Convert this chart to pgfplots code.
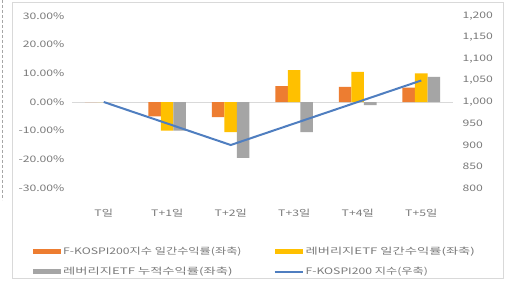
\documentclass[border=0pt]{standalone}
\usepackage{fontspec}
\setmainfont{Noto Sans CJK KR}
\usepackage{graphicx}
\usepackage{pgfplots}
\pgfplotsset{compat=1.18}
\definecolor{cor}{HTML}{ED7D31}
\definecolor{cye}{HTML}{FFC000}
\definecolor{cgr}{HTML}{A5A5A5}
\definecolor{cbl}{HTML}{4F7EC0}
\definecolor{ctx}{HTML}{7A7A7A}
\definecolor{cbd}{HTML}{D9D9D9}
\newcommand\sx[1]{\scalebox{1.36}[1]{#1}}
\newcommand\sxw[1]{\scalebox{1.48}[1]{#1}}
\begin{document}
\begin{tikzpicture}
\useasboundingbox (-72bp,-94bp) rectangle (443bp,188bp);
\fill[white] (-72bp,-94bp) rectangle (443bp,188bp);
\draw[cbd] (-60bp,-90bp) rectangle (431bp,186bp);
\draw[gray!70, dash pattern=on 3bp off 2bp] (-70bp,188bp) -- (-70bp,-12bp);
\begin{axis}[
  at={(0,0)}, anchor=south west,
  scale only axis, width=381bp, height=172bp,
  xmin=-0.5, xmax=5.5, ymin=-30, ymax=30,
  ytick={-30,-20,-10,0,10,20,30},
  yticklabel={\sx{\pgfmathprintnumber[fixed,fixed zerofill,precision=2]{\tick}\%}},
  yticklabel style={xshift=-4bp},
  xtick={0,1,2,3,4,5},
  xticklabels={\sx{T일},\sx{T+1일},\sx{T+2일},\sx{T+3일},\sx{T+4일},\sx{T+5일}},
  xticklabel style={yshift=-18bp},
  axis line style={draw=none}, major tick length=0pt,
  tick label style={font=\fontsize{9}{10}\selectfont, text=ctx},
  /pgf/number format/assume math mode=true,
  ybar=0pt, bar width=12.5bp,
  extra y ticks={0}, extra y tick labels={},
  extra y tick style={grid=major, major grid style={color=cbd, line width=0.8pt}},
  legend columns=2, legend cell align=left,
  legend style={at={(axis description cs:0,0)}, anchor=north west, xshift=-39bp, yshift=-57bp,
    draw=none, fill=none, inner sep=0pt, row sep=7bp,
    font=\fontsize{9}{10}\selectfont, text=ctx,
    /tikz/every even column/.append style={column sep=30bp}},
]
\addplot[fill=cor, draw=none, legend image code/.code={\fill[cor] (0bp,-2.5bp) rectangle (28bp,2.5bp);}]
  coordinates {(0,0) (1,-5.00) (2,-5.26) (3,5.56) (4,5.26) (5,5.00)};
\addlegendentry{\sx{F-KOSPI200지수 일간수익률(좌축)}}
\addplot[fill=cye, draw=none, legend image code/.code={\fill[cye] (0bp,-2.5bp) rectangle (28bp,2.5bp);}]
  coordinates {(0,0) (1,-10.00) (2,-10.53) (3,11.11) (4,10.53) (5,10.00)};
\addlegendentry{\sxw{레버리지ETF 일간수익률(좌축)}}
\addplot[fill=cgr, draw=none, legend image code/.code={\fill[cgr] (0bp,-2.5bp) rectangle (28bp,2.5bp);}]
  coordinates {(0,0) (1,-10.00) (2,-19.47) (3,-10.53) (4,-1.11) (5,8.78)};
\addlegendentry{\sxw{레버리지ETF 누적수익률(좌축)}}
\addlegendimage{legend image code/.code={\draw[cbl, line width=2bp] (0bp,0bp) -- (28bp,0bp);}}
\addlegendentry{\sx{F-KOSPI200 지수(우축)}}
\end{axis}
\begin{axis}[
  at={(0,0)}, anchor=south west,
  scale only axis, width=381bp, height=172bp,
  xmin=-0.5, xmax=5.5, ymin=800, ymax=1200,
  axis y line*=right, axis x line=none,
  ytick={800,850,...,1200},
  yticklabel={\sx{\pgfmathprintnumber[fixed,precision=0,1000 sep={,}]{\tick}}},
  yticklabel style={xshift=6bp},
  axis line style={draw=none}, major tick length=0pt,
  tick label style={font=\fontsize{9}{10}\selectfont, text=ctx},
  /pgf/number format/assume math mode=true,
]
\addplot[cbl, line width=2bp, mark=none] coordinates {(0,1000) (1,950) (2,900) (3,950) (4,1000) (5,1050)};
\end{axis}
\end{tikzpicture}
\end{document}
